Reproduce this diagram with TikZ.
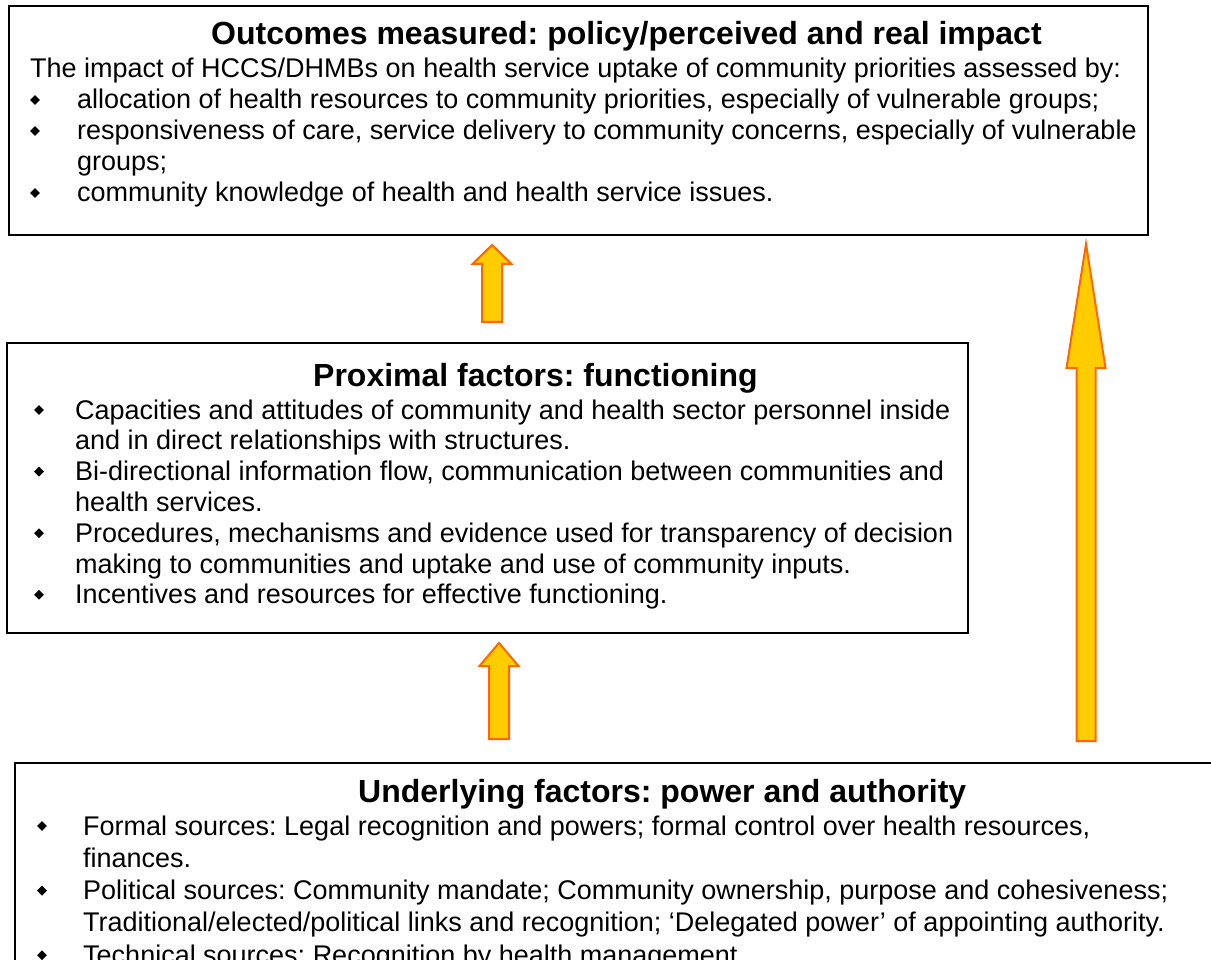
\documentclass[tikz,border=0pt]{standalone}
\usepackage{fontspec}
\setmainfont{Liberation Sans}
\usetikzlibrary{shapes.geometric,calc}
\definecolor{arrowfill}{HTML}{FFCC00}
\definecolor{arrowline}{HTML}{FF6600}
\frenchspacing
\tikzset{
  box/.style={draw=black, line width=1.8pt, fill=white, anchor=north west, inner sep=0pt},
  txt/.style={anchor=base west, inner sep=0pt, font=\fontsize{27}{31}\selectfont},
  ttl/.style={anchor=base west, inner sep=0pt, font=\fontsize{32}{38}\selectfont\bfseries},
  bul/.style={diamond, fill=black, inner sep=0pt, minimum size=10pt},
  blockarrow/.style={fill=arrowfill, draw=arrowline, line width=2pt, line join=miter}
}
\newcommand\blkarrow[5]{%
  \draw[blockarrow] ($(#1)+(-#4,0)$) -- ($(#2)+(-#4,#3)$) -- ($(#2)+(-#5,#3)$) -- (#2)
    -- ($(#2)+(#5,#3)$) -- ($(#2)+(#4,#3)$) -- ($(#1)+(#4,0)$) -- cycle;}
\begin{document}
\begin{tikzpicture}[x=1pt,y=-1pt]
\useasboundingbox (0,0) rectangle (1211,960);
\clip (0,0) rectangle (1211,960);
\fill[white] (0,0) rectangle (1211,960);

% ---------- top box ----------
\node[box, minimum width=1139pt, minimum height=229pt] (outcomes) at (8,5) {};
\node[ttl] (ttop) at (211,45) {Outcomes measured: policy/perceived and real impact};
\node[txt] (o0) at (30,78) {The impact of HCCS/DHMBs on health service uptake of community priorities assessed by:};
\node[bul] (ob1) at (35,100) {};
\node[txt] (o1) at (77,109) {allocation of health resources to community priorities, especially of vulnerable groups;};
\node[bul] (ob2) at (35,131) {};
\node[txt] (o2) at (77,140) {responsiveness of care, service delivery to community concerns, especially of vulnerable};
\node[txt] (o3) at (77,171) {groups;};
\node[bul] (ob3) at (35,193) {};
\node[txt] (o4) at (77,202) {community knowledge of health and health service issues.};

% ---------- middle box ----------
\node[box, minimum width=961pt, minimum height=290pt] (proximal) at (6,342) {};
\node[ttl] (tmid) at (313,386) {Proximal factors: functioning};
\node[bul] (pb1) at (39,410) {};
\node[txt] (p1) at (75,419) {Capacities and attitudes of community and health sector personnel inside};
\node[txt] (p2) at (75,449.8) {and in direct relationships with structures.};
\node[bul] (pb2) at (39,471.6) {};
\node[txt] (p3) at (75,480.6) {Bi-directional information flow, communication between communities and};
\node[txt] (p4) at (75,511.4) {health services.};
\node[bul] (pb3) at (39,533.2) {};
\node[txt] (p5) at (75,542.2) {Procedures, mechanisms and evidence used for transparency of decision};
\node[txt] (p6) at (75,573) {making to communities and uptake and use of community inputs.};
\node[bul] (pb4) at (39,594.8) {};
\node[txt] (p7) at (75,603.8) {Incentives and resources for effective functioning.};

% ---------- bottom box ----------
\node[box, minimum width=1260pt, minimum height=260pt] (underlying) at (14,762) {};
\node[ttl] (tbot) at (358,802) {Underlying factors: power and authority};
\node[bul] (ub1) at (42,826) {};
\node[txt] (u1) at (83,835) {Formal sources: Legal recognition and powers; formal control over health resources,};
\node[txt] (u2) at (83,867.3) {finances.};
\node[bul] (ub2) at (42,890.6) {};
\node[txt] (u3) at (83,899.6) {Political sources: Community mandate; Community ownership, purpose and cohesiveness;};
\node[txt] (u4) at (83,931.9) {Traditional/elected/political links and recognition; ‘Delegated power’ of appointing authority.};
\node[bul] (ub3) at (42,955.2) {};
\node[txt] (u5) at (83,964.2) {Technical sources: Recognition by health management.};

% ---------- arrows ----------
\coordinate (a1b) at (492,322);
\coordinate (a1t) at (492,245);
\blkarrow{a1b}{a1t}{19}{10}{19.5}
\coordinate (a2b) at (499,739);
\coordinate (a2t) at (499,643);
\blkarrow{a2b}{a2t}{23}{10}{19.5}
\coordinate (a3b) at (1086,741);
\coordinate (a3t) at (1086,244);
\blkarrow{a3b}{a3t}{124}{9.5}{19.5}
\end{tikzpicture}
\end{document}
